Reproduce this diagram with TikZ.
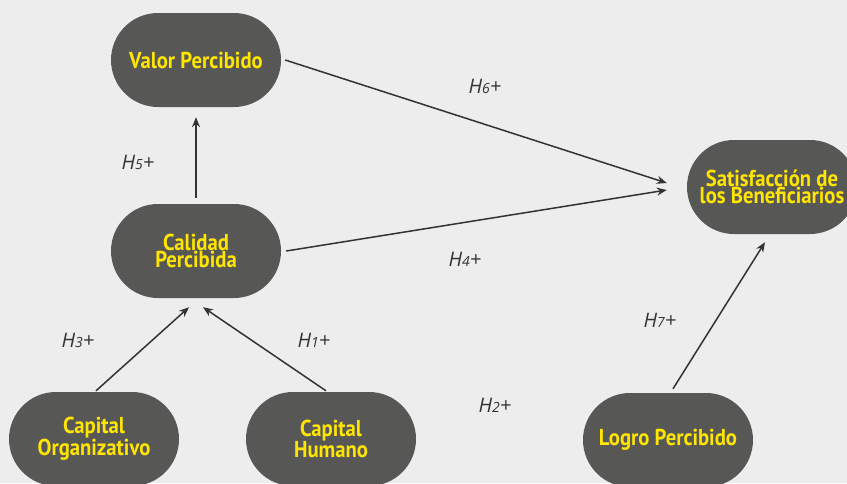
\documentclass[tikz,border=0pt]{standalone}
\usepackage{fontspec}
\setmainfont{PT Sans}
\newfontfamily\boxfont[FakeStretch=0.9]{PT Sans}
\newfontfamily\hypfont{Open Sans}
\definecolor{BgGrey}{HTML}{EDEDED}
\definecolor{BoxGrey}{HTML}{575756}
\definecolor{BoxYellow}{HTML}{FFE500}
\definecolor{LineGrey}{HTML}{333333}
\usetikzlibrary{arrows.meta, shapes.misc}

\newcommand{\hyplabel}[1]{H{\fontsize{14}{14}\selectfont #1}+}

\begin{document}
\begin{tikzpicture}[x=1pt, y=-1pt, >={Stealth[length=10pt, width=8pt]},
  construct/.style={rounded rectangle, fill=BoxGrey, minimum width=170pt,
    minimum height=94pt, inner sep=0pt, align=center, text=BoxYellow,
    font=\boxfont\bfseries\fontsize{23}{16}\selectfont},
  hyp/.style={text=LineGrey, font=\hypfont\itshape\fontsize{20}{20}\selectfont},
  link/.style={->, line width=1.5pt, draw=LineGrey}]

  % Background and page size
  \fill[BgGrey] (0,0) rectangle (847,483);
  \useasboundingbox (0,0) rectangle (847,483);

  % Constructs
  \node[construct] (valor)   at (196,60)  {Valor Percibido};
  \node[construct] (calidad) at (196,251) {Calidad\\Percibida};
  \node[construct] (satisf)  at (772,187) {Satisfacción de\\los Beneficiarios};
  \node[construct] (orgcap)  at (94,439)  {Capital\\Organizativo};
  \node[construct] (humcap)  at (331,439) {Capital\\Humano};
  \node[construct] (logro)   at (668,440) {Logro Percibido};

  % Paths
  \draw[link] ([xshift=4pt]valor.east) -- ([xshift=-20pt, yshift=4pt]satisf.west);
  \draw[link] ([xshift=5pt]calidad.east) -- ([xshift=-20pt, yshift=-3pt]satisf.west);
  \draw[link] ([yshift=6pt]calidad.north) -- ([yshift=-10pt]valor.south);
  \draw[link] ([xshift=2pt, yshift=1pt]orgcap.north) -- ([xshift=-7pt, yshift=-9pt]calidad.south);
  \draw[link] ([xshift=-5pt, yshift=1pt]humcap.north) -- ([xshift=7pt, yshift=-9pt]calidad.south);
  \draw[link] ([xshift=5pt, yshift=4pt]logro.north) -- ([xshift=-7pt, yshift=-8pt]satisf.south);

  % Hypotheses
  \node[hyp] (h6) at (485,86)  {\hyplabel{6}};
  \node[hyp] (h5) at (138,162) {\hyplabel{5}};
  \node[hyp] (h4) at (465,259) {\hyplabel{4}};
  \node[hyp] (h3) at (78,340)  {\hyplabel{3}};
  \node[hyp] (h1) at (314,340) {\hyplabel{1}};
  \node[hyp] (h2) at (495,405) {\hyplabel{2}};
  \node[hyp] (h7) at (660,320) {\hyplabel{7}};
\end{tikzpicture}
\end{document}
